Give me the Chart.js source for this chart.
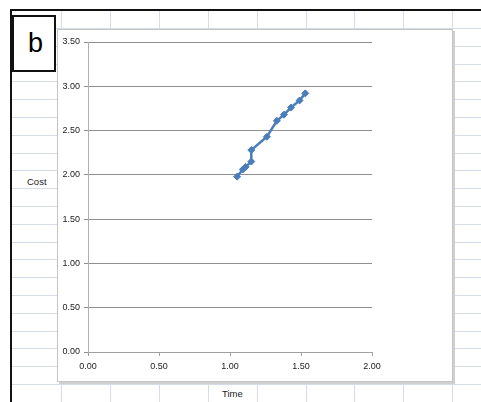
<!DOCTYPE html>
<html lang="en">
  <head>
    <meta charset="UTF-8" />
    <title>Cost vs Time</title>
    <script src="https://cdn.jsdelivr.net/npm/chart.js"></script>
    <style>
      html,
      body {
        margin: 0;
        padding: 0;
        background: #ffffff;
        overflow: hidden;
      }

      #sheet {
        position: absolute;
        left: 0;
        top: 0;
        width: 481px;
        height: 402px;
        overflow: hidden;
        font-family: "Liberation Sans", Arial, sans-serif;
      }

      .vline,
      .hline {
        position: absolute;
        background: #d6dde9;
      }

      .frame-top {
        position: absolute;
        left: 10px;
        top: 9px;
        width: 471px;
        height: 2px;
        background: #111;
      }

      .frame-left {
        position: absolute;
        left: 10px;
        top: 9px;
        width: 2px;
        height: 393px;
        background: #111;
      }

      .label-box {
        position: absolute;
        left: 12px;
        top: 15px;
        width: 37px;
        height: 53px;
        border: 2px solid #111;
        background: #fff;
        font-size: 27px;
        line-height: 53px;
        text-align: center;
        padding-left: 3px;
      }

      .panel {
        position: absolute;
        left: 57px;
        top: 29px;
        width: 394px;
        height: 351px;
        background: #fff;
        border: 1px solid #c4c4c4;
        box-shadow: 2px 2px 0 #cfcfcf;
      }

      .axis-title {
        position: absolute;
        font-size: 9.5px;
        color: #222;
        white-space: nowrap;
      }

      .chart-wrapper {
        position: absolute;
        left: 0;
        top: 0;
        width: 481px;
        height: 402px;
      }
    </style>
  </head>
  <body>
    <div id="sheet">
      <div id="gridLayer"></div>
      <div class="frame-top"></div>
      <div class="frame-left"></div>
      <div class="label-box">b</div>
      <div class="panel"></div>
      <div class="axis-title" style="left: 27px; top: 176px">Cost</div>
      <div class="axis-title" style="left: 222px; top: 388px">Time</div>
      <div class="chart-wrapper">
        <canvas id="costChart"></canvas>
      </div>
    </div>

    <script>
      // values
      const timeValues = [1.05, 1.09, 1.11, 1.15, 1.15, 1.26, 1.33, 1.38, 1.43, 1.49, 1.53];
      const costValues = [1.98, 2.06, 2.09, 2.15, 2.28, 2.43, 2.61, 2.68, 2.76, 2.84, 2.92];
      const xTicks = [0, 0.5, 1, 1.5, 2];
      const yTicks = [0, 0.5, 1, 1.5, 2, 2.5, 3, 3.5];

      // spreadsheet cell lines behind the chart
      const grid = document.getElementById("gridLayer");
      for (let x = 61; x < 481; x += 48.9) {
        const d = document.createElement("div");
        d.className = "vline";
        d.style.left = Math.round(x) + "px";
        d.style.top = "11px";
        d.style.width = "1px";
        d.style.height = "391px";
        grid.appendChild(d);
      }
      for (let y = 28; y < 402; y += 17.8) {
        const d = document.createElement("div");
        d.className = "hline";
        d.style.left = "12px";
        d.style.top = Math.round(y) + "px";
        d.style.width = "469px";
        d.style.height = "1px";
        grid.appendChild(d);
      }

      const points = timeValues.map((t, i) => ({ x: t, y: costValues[i] }));
      const tickFont = { family: "'Liberation Sans', Arial, sans-serif", size: 9 };

      new Chart(document.getElementById("costChart").getContext("2d"), {
        type: "scatter",
        data: {
          datasets: [
            {
              data: points,
              showLine: true,
              borderColor: "#4a7ebb",
              backgroundColor: "#4a7ebb",
              borderWidth: 2.5,
              pointStyle: "rectRot",
              pointRadius: 3.5,
              pointBorderWidth: 1,
              tension: 0,
            },
          ],
        },
        options: {
          responsive: true,
          maintainAspectRatio: false,
          animation: false,
          layout: { padding: { left: 48, right: 109, top: 42, bottom: 25 } },
          plugins: { legend: { display: false }, tooltip: { enabled: false } },
          scales: {
            x: {
              type: "linear",
              min: xTicks[0],
              max: xTicks[xTicks.length - 1],
              afterFit: (scale) => {
                scale.height = 25;
              },
              afterBuildTicks: (scale) => {
                scale.ticks = xTicks.map((v) => ({ value: v }));
              },
              ticks: {
                font: tickFont,
                color: "#222",
                padding: 5,
                maxRotation: 0,
                callback: (v) => Number(v).toFixed(2),
              },
              grid: {
                drawOnChartArea: false,
                drawTicks: true,
                tickLength: 4,
                color: "#a0a0a0",
              },
              border: { color: "#a0a0a0" },
            },
            y: {
              type: "linear",
              min: yTicks[0],
              max: yTicks[yTicks.length - 1],
              afterFit: (scale) => {
                scale.width = 40;
              },
              afterBuildTicks: (scale) => {
                scale.ticks = yTicks.map((v) => ({ value: v }));
              },
              ticks: {
                font: tickFont,
                color: "#222",
                padding: 4,
                callback: (v) => Number(v).toFixed(2),
              },
              grid: {
                tickLength: 4,
                color: "#8f8f8f",
              },
              border: { color: "#b0b0b0" },
            },
          },
        },
      });
    </script>
  </body>
</html>
